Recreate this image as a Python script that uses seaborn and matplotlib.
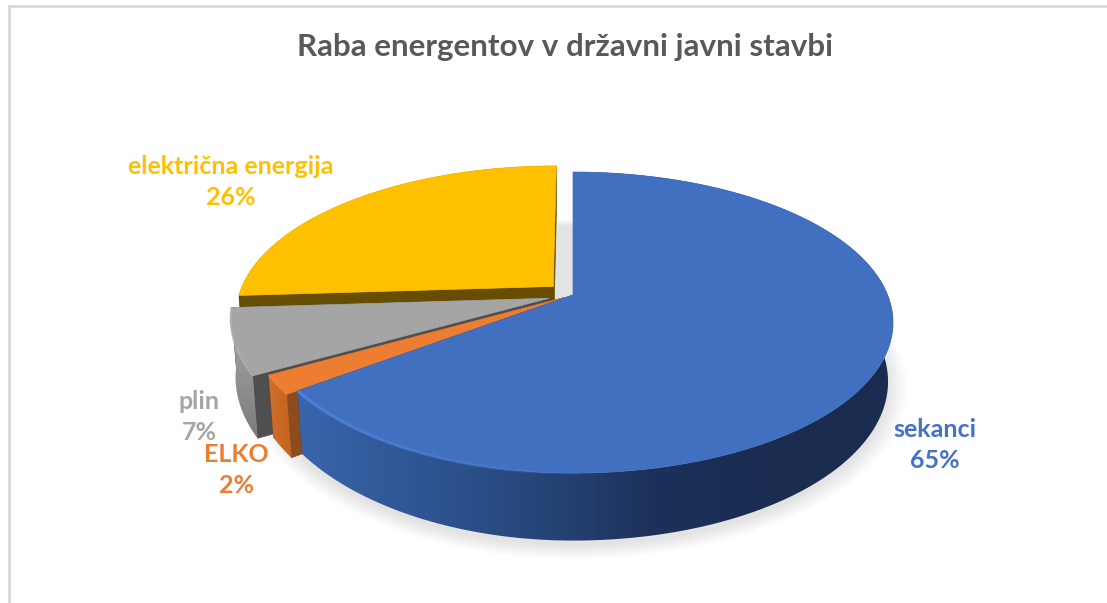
import numpy as np
import matplotlib
matplotlib.use("Agg")
import matplotlib.pyplot as plt
from matplotlib.collections import LineCollection
from matplotlib.patches import Polygon
import seaborn as sns

categories = ["sekanci", "ELKO", "plin", "električna energija"]
shares = [65, 2, 7, 26]
title_text = "Raba energentov v državni javni stavbi"

top_colors = ["#4170C1", "#ED7D31", "#A5A5A5", "#FFC000"]
label_colors = ["#4472C4", "#ED7D31", "#A5A5A5", "#FFC000"]
cut_colors = ["#2A4A80", "#8E4B1C", "#4F4F4F", "#664D00"]
explode = [0.0, 0.035, 0.08, 0.087]
label_xy = [(935, 445), (236, 470), (199, 417), (231, 182)]

wall_ramps = [
    ["#3A65AA", "#2F5694", "#264679", "#1C305A", "#1A2C50", "#1A2C50"],
    ["#D06D2A", "#C2651F"],
    ["#ABABAB", "#7C7C7C"],
    ["#664D00", "#664D00"],
]
rim_colors = ["#4E82DC", "#F58F48", "#B4B4B4", "#FFCF40"]

W, H = 1107, 603
CX, CY = 573, 295
A, B, P = 314.6, 145.5, 0.183
SKEW = 21
DEPTH = 58
BASE_RADIUS = 0.985

sns.set_theme(style="white")
plt.rcParams["font.family"] = ["Lato", "DejaVu Sans"]

fig = plt.figure(figsize=(W / 100, H / 100), dpi=100, facecolor="white")
ax = fig.add_axes([0, 0, 1, 1])


def project(u, v, drop=0.0):
    """Perspective view of the unit disc, optionally lowered by drop."""
    u, v = np.asarray(u, float), np.asarray(v, float)
    f = 1.0 / (1.0 + P * v)
    # The front-left quadrant of the view sits slightly inward
    pull = SKEW * np.where((u < 0) & (v < 0), u * v, 0.0)
    return np.column_stack([CX + A * u * f + pull,
                            CY - B * v * f + drop * f])


def ring(start, end, offset=(0, 0), radius=1.0, drop=0.0, n=240):
    t = np.radians(np.linspace(start, end, n))
    return project(offset[0] + radius * np.sin(t),
                   offset[1] + radius * np.cos(t), drop)


# Soft ground shadow under the whole disc
for k in range(14):
    grow = BASE_RADIUS + 0.0045 * k
    pts = ring(0, 360, radius=grow, drop=DEPTH + 4)
    ax.add_patch(Polygon(pts, closed=True, fc="black", ec="none", alpha=0.009, zorder=1))

# Slice boundaries, clockwise from twelve o'clock
edges = np.concatenate([[0], np.cumsum(shares)]) * 3.6
order = [3, 2, 1, 0]
z = 2
for i in order:
    start, end = edges[i], edges[i + 1]
    mid = np.radians((start + end) / 2)
    off = (explode[i] * np.sin(mid), explode[i] * np.cos(mid))
    top = ring(start, end, off)
    bottom = ring(start, end, off, radius=BASE_RADIUS, drop=DEPTH)
    apex_top = project([off[0]], [off[1]])
    apex_bottom = project([off[0]], [off[1]], DEPTH)

    # Radial cut faces
    for edge_top, edge_bottom in ((top[0], bottom[0]), (top[-1], bottom[-1])):
        face = np.vstack([apex_top, edge_top, edge_bottom, apex_bottom])
        ax.add_patch(Polygon(face, closed=True, fc=cut_colors[i], ec=cut_colors[i],
                             lw=0.5, zorder=z))
    z += 1

    # Outer wall with a shaded ramp clipped to its outline
    wall = np.vstack([top, bottom[::-1]])
    clip = Polygon(wall, closed=True, transform=ax.transData, fc="none", ec="none")
    ax.add_patch(clip)
    x0, x1 = wall[:, 0].min(), wall[:, 0].max()
    y0, y1 = wall[:, 1].min(), wall[:, 1].max()
    cmap = sns.blend_palette(wall_ramps[i], as_cmap=True)
    ramp = np.linspace(0, 1, 256)
    ramp = ramp[:, None] if i == 2 else ramp[None, :]
    img = ax.imshow(ramp, cmap=cmap, extent=(x0, x1, y1, y0), origin="upper",
                    aspect="auto", zorder=z, interpolation="bilinear")
    img.set_clip_path(clip)
    z += 1

    # Top face
    face = np.vstack([apex_top, top])
    ax.add_patch(Polygon(face, closed=True, fc=top_colors[i], ec=top_colors[i],
                         lw=0.5, zorder=z))
    z += 1

    # Bevel along the front rim, fading out toward the dark side
    if i != 3:
        seg_start = max(start, 90)
        rim = ring(seg_start, end, off)
        segs = np.stack([rim[:-1], rim[1:]], axis=1)
        fade = (rim[:-1, 0] - rim[:, 0].min()) / max(np.ptp(rim[:, 0]), 1)
        alpha = np.clip(1.0 - fade * (2.0 if i == 0 else 0.2), 0, 1)
        rgba = np.tile(matplotlib.colors.to_rgba(rim_colors[i]), (len(segs), 1))
        rgba[:, 3] = alpha
        ax.add_collection(LineCollection(segs, colors=rgba,
                                         linewidths=2.2 if i == 0 else 1.4, zorder=z))
        z += 1

# Chart frame
ax.plot([8.5, 8.5, W], [H, 6, 6], color="#D9D9D9", lw=2, zorder=z, solid_joinstyle="miter")

ax.text(565, 47, title_text, ha="center", va="center", fontsize=22.6,
        fontweight="bold", color="#595959", zorder=z + 1)

for name, share, colour, (x, y) in zip(categories, shares, label_colors, label_xy):
    ax.text(x, y, f"{name}\n{share}%", ha="center", va="center", fontsize=18,
            fontweight="bold", color=colour, linespacing=1.42, zorder=z + 1)

ax.set_xlim(0, W)
ax.set_ylim(H, 0)
ax.set_axis_off()

fig.savefig("out.png", dpi=100, facecolor="white")
